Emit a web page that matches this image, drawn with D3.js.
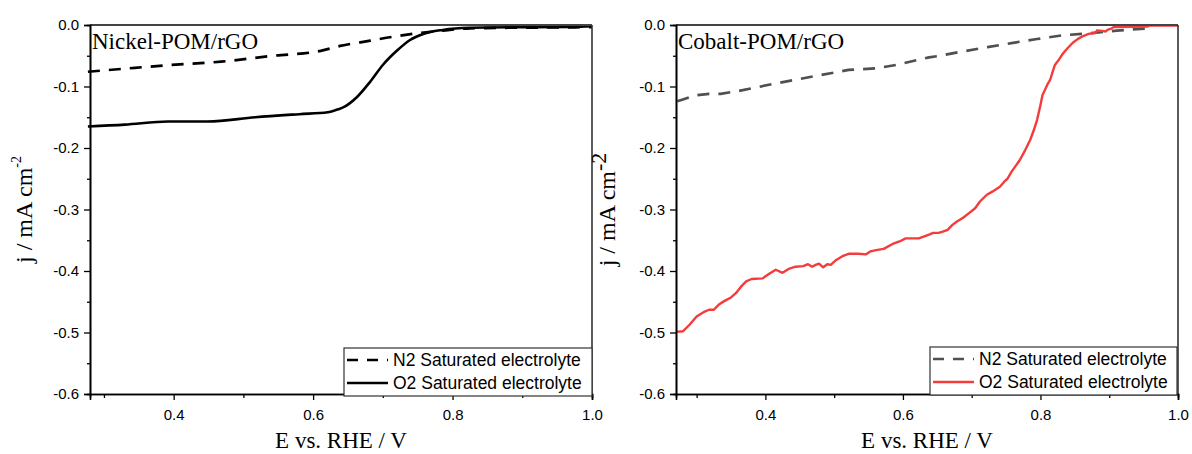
<!DOCTYPE html>
<html><head><meta charset="utf-8">
<script src="https://cdn.jsdelivr.net/npm/d3@7"></script>
<style>body{margin:0;background:#fff}</style></head>
<body>
<svg id="c" width="1192" height="454"></svg>
<script>
// ---------- data ----------
const yTicks = [0, -0.1, -0.2, -0.3, -0.4, -0.5, -0.6];
const yMinor = [-0.05, -0.15, -0.25, -0.35, -0.45, -0.55];
const xTicks = [0.4, 0.6, 0.8, 1.0];
const xMinor = [0.3, 0.5, 0.7, 0.9];

const titles = ["Nickel-POM/rGO", "Cobalt-POM/rGO"];
const legendLabels = ["N2 Saturated electrolyte", "O2 Saturated electrolyte"];

// Nickel-POM/rGO, N2
const niN2_E = [0.277,0.335,0.396,0.468,0.540,0.611,0.639,0.682,0.715,0.749,0.786,0.825,0.88,0.95,1.0];
const niN2_J = [-0.076,-0.0705,-0.065,-0.0596,-0.0504,-0.042,-0.034,-0.0255,-0.019,-0.0135,-0.009,-0.0055,-0.0045,-0.004,-0.0035];
// Nickel-POM/rGO, O2
const niO2_E = [0.277,0.33,0.392,0.449,0.517,0.58,0.621,0.636,0.643,0.663,0.682,0.700,0.720,0.739,0.758,0.786,0.825,0.90,0.97,1.0];
const niO2_J = [-0.165,-0.162,-0.157,-0.157,-0.150,-0.145,-0.142,-0.137,-0.134,-0.117,-0.092,-0.065,-0.042,-0.0244,-0.0146,-0.008,-0.0045,-0.0035,-0.003,-0.002];

// Cobalt-POM/rGO, N2
const coN2_E = [0.272,0.280,0.300,0.318,0.335,0.367,0.415,0.463,0.521,0.561,0.590,0.638,0.654,0.687,0.723,0.760,0.795,0.832,0.872,0.911,0.958];
const coN2_J = [-0.124,-0.121,-0.114,-0.112,-0.112,-0.106,-0.095,-0.085,-0.073,-0.0705,-0.065,-0.0526,-0.050,-0.043,-0.036,-0.029,-0.0228,-0.0168,-0.0135,-0.009,-0.0055];
// Cobalt-POM/rGO, O2
const coO2_E = [0.27,0.28,0.29,0.30,0.31,0.318,0.325,0.333,0.34,0.35,0.357,0.365,0.372,0.38,0.396,0.405,0.415,0.425,0.435,0.444,0.455,0.462,0.468,0.473,0.478,0.484,0.49,0.495,0.503,0.512,0.521,0.535,0.546,0.553,0.561,0.572,0.585,0.595,0.604,0.623,0.63,0.638,0.644,0.652,0.658,0.665,0.672,0.678,0.688,0.697,0.705,0.712,0.722,0.73,0.741,0.748,0.752,0.758,0.764,0.770,0.778,0.785,0.79,0.795,0.80,0.803,0.81,0.814,0.818,0.821,0.827,0.833,0.84,0.847,0.854,0.862,0.87,0.876,0.88,0.882,0.89,0.895,0.898,0.903,0.906,0.93,0.955,0.958,1.0];
const coO2_J = [-0.499,-0.498,-0.487,-0.474,-0.467,-0.463,-0.463,-0.454,-0.449,-0.443,-0.436,-0.425,-0.417,-0.413,-0.412,-0.405,-0.398,-0.403,-0.396,-0.393,-0.392,-0.389,-0.393,-0.390,-0.388,-0.394,-0.389,-0.390,-0.382,-0.376,-0.372,-0.372,-0.373,-0.368,-0.366,-0.364,-0.356,-0.352,-0.347,-0.347,-0.344,-0.341,-0.338,-0.338,-0.336,-0.333,-0.325,-0.320,-0.313,-0.305,-0.298,-0.287,-0.276,-0.271,-0.263,-0.254,-0.25,-0.2385,-0.229,-0.2195,-0.203,-0.187,-0.172,-0.1545,-0.13,-0.114,-0.097,-0.0894,-0.075,-0.065,-0.056,-0.046,-0.037,-0.0288,-0.023,-0.0179,-0.0145,-0.0135,-0.013,-0.009,-0.0095,-0.0105,-0.0075,-0.006,-0.0035,-0.003,-0.0025,-0.001,-0.001];

// ---------- drawing ----------
const svg = d3.select("#c");
const serif = "'Liberation Serif','Times New Roman',serif";
const sans = "'Liberation Sans',Arial,sans-serif";

const panels = [
  {x0:90, x1:592, xd:[0.28,1.0], title:titles[0],
   series:[{E:niN2_E,J:niN2_J,color:"#000",dash:"12,9",w:2.7,curve:d3.curveMonotoneX},
           {E:niO2_E,J:niO2_J,color:"#000",dash:null,w:2.6,curve:d3.curveMonotoneX}],
   legend:{x:344,y:348,w:248,h:48}, ylab:{x:32, big:false}},
  {x0:676, x1:1178, xd:[0.27,1.0], title:titles[1],
   series:[{E:coN2_E,J:coN2_J,color:"#505050",dash:"12,9",w:2.7,curve:d3.curveLinear},
           {E:coO2_E,J:coO2_J,color:"#f43c3c",dash:null,w:2.4,curve:d3.curveLinear}],
   legend:{x:930,y:347,w:247,h:48}, ylab:{x:615, big:true}}
];
const yTop = 25, yBot = 394;

panels.forEach(p => {
  const x = d3.scaleLinear().domain(p.xd).range([p.x0, p.x1]);
  const y = d3.scaleLinear().domain([-0.6, 0]).range([yBot, yTop]);
  const g = svg.append("g");

  // series
  p.series.forEach(s => {
    const pts = s.E.map((e,i)=>[e, s.J[i]]);
    g.append("path").datum(pts)
      .attr("fill","none").attr("stroke",s.color).attr("stroke-width",s.w)
      .attr("stroke-dasharray",s.dash).attr("stroke-linejoin","round")
      .attr("d", d3.line().x(d=>x(d[0])).y(d=>y(d[1])).curve(s.curve));
  });

  // frame top/right
  g.append("line").attr("x1",p.x0).attr("x2",p.x1).attr("y1",yTop).attr("y2",yTop)
    .attr("stroke","#444").attr("stroke-width",2);
  g.append("line").attr("x1",p.x1).attr("x2",p.x1).attr("y1",yTop).attr("y2",yBot)
    .attr("stroke","#333").attr("stroke-width",1.6);

  // axes
  const fmt = d => d.toFixed(1).replace("-0.0","0.0");
  g.append("g").attr("transform",`translate(${p.x0},0)`)
    .call(d3.axisLeft(y).tickValues(yTicks).tickSize(6).tickPadding(5).tickFormat(fmt));
  g.append("g").attr("transform",`translate(${p.x0},0)`)
    .call(d3.axisLeft(y).tickValues(yMinor).tickSize(3).tickFormat(""));
  g.append("g").attr("transform",`translate(0,${yBot})`)
    .call(d3.axisBottom(x).tickValues(xTicks).tickSize(6).tickPadding(9).tickFormat(d=>d.toFixed(1)));
  g.append("g").attr("transform",`translate(0,${yBot})`)
    .call(d3.axisBottom(x).tickValues(xMinor).tickSize(4).tickFormat(""));
  g.selectAll(".domain").attr("stroke","#000").attr("stroke-width",1.6);
  g.selectAll(".tick line").attr("stroke","#000").attr("stroke-width",1.3);
  g.selectAll(".tick text").attr("font-family",sans).attr("font-size",15).attr("fill","#000");

  // title
  g.append("text").attr("x",p.x0+2).attr("y",49).attr("font-family",serif)
    .attr("font-size",23).attr("fill","#000").text(p.title);

  // x label
  g.append("text").attr("x",(p.x0+p.x1)/2).attr("y",448).attr("text-anchor","middle")
    .attr("font-family",serif).attr("font-size",23).attr("fill","#000").text("E vs. RHE / V");

  // y label
  const yl = g.append("text").attr("transform",`translate(${p.ylab.x},${(yTop+yBot)/2}) rotate(-90)`)
    .attr("text-anchor","middle").attr("font-family",serif).attr("font-size",24).attr("fill","#000");
  yl.append("tspan").text("j / mA cm");
  if (p.ylab.big) {
    yl.append("tspan").attr("font-size",22).attr("dy",-9).text("-2");
  } else {
    yl.append("tspan").attr("font-size",14).attr("dy",-11).text("-2");
  }

  // legend
  const L = p.legend;
  const lg = g.append("g");
  lg.append("rect").attr("x",L.x).attr("y",L.y).attr("width",L.w).attr("height",L.h)
    .attr("fill","#fff").attr("stroke","#333").attr("stroke-width",1.2);
  p.series.forEach((s,i) => {
    const cy = L.y + 12 + i*23;
    lg.append("line").attr("x1",L.x+3).attr("x2",L.x+44).attr("y1",cy).attr("y2",cy)
      .attr("stroke",s.color).attr("stroke-width",s.w).attr("stroke-dasharray",s.dash ? "11,9" : null);
    lg.append("text").attr("x",L.x+49).attr("y",cy).attr("dy","0.36em")
      .attr("font-family",sans).attr("font-size",17.5).attr("fill","#000").text(legendLabels[i]);
  });
});
</script>
</body></html>
